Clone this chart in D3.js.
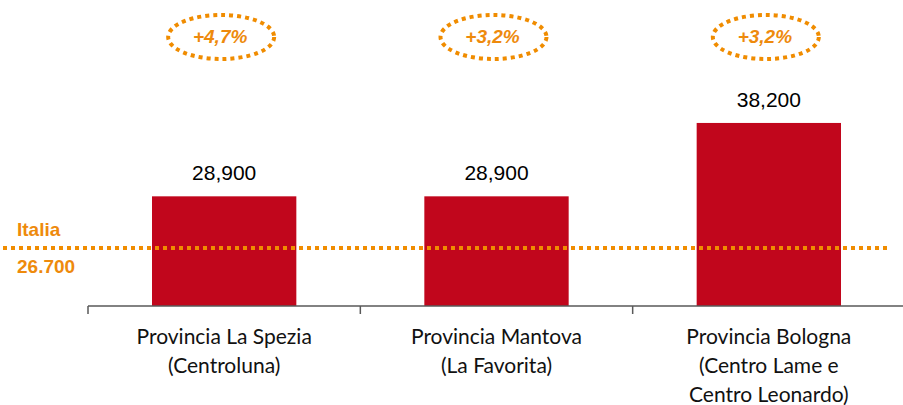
<!DOCTYPE html>
<html>
<head>
  <meta charset="utf-8">
  <script src="https://d3js.org/d3.v7.min.js"></script>
  <style>
    body { margin: 0; background: #ffffff; }
    svg { display: block; }
    .bar { fill: #c1061c; }
    .value { font: 21px "Liberation Sans", Arial, sans-serif; fill: #000; text-anchor: middle; }
    .cat { font: 21px Lato, "Open Sans", sans-serif; fill: #111; text-anchor: middle; }
    .growth { font: italic bold 19px "Liberation Sans", Arial, sans-serif; fill: #ee8a0c; text-anchor: middle; }
    .ref { font: bold 19px "Liberation Sans", Arial, sans-serif; fill: #ee8a0c; }
    .dots { fill: none; stroke: #f08c00; stroke-width: 4; stroke-dasharray: 4 4; }
    .axis { stroke: #595959; stroke-width: 1.5; fill: none; }
  </style>
</head>
<body>
<script>
// data
var categories = ["Provincia La Spezia", "Provincia Mantova", "Provincia Bologna"];
var catLines = [
  ["Provincia La Spezia", "(Centroluna)"],
  ["Provincia Mantova", "(La Favorita)"],
  ["Provincia Bologna", "(Centro Lame e", "Centro Leonardo)"]
];
var values = [28900, 28900, 38200];
var valueLabels = ["28,900", "28,900", "38,200"];
var growth = ["+4,7%", "+3,2%", "+3,2%"];
var refLabel = "Italia";
var refValue = "26.700";

var width = 903, height = 405;
var baseY = 306;

var svg = d3.select("body").append("svg")
  .attr("width", width).attr("height", height);

var x = d3.scaleBand()
  .domain(categories)
  .range([88, 905])
  .padding(0);

var y = d3.scaleLinear()
  .domain([15000, 45000])
  .range([baseY, baseY - 30000 * 0.00789]);

var barW = x.bandwidth() * 0.53;

// bars
svg.selectAll(".bar")
  .data(values)
  .enter().append("rect")
  .attr("class", "bar")
  .attr("x", function(d, i) { return x(categories[i]) + x.bandwidth() / 2 - barW / 2; })
  .attr("y", function(d) { return y(d); })
  .attr("width", barW)
  .attr("height", function(d) { return baseY - y(d); });

// value labels
svg.selectAll(".value")
  .data(values)
  .enter().append("text")
  .attr("class", "value")
  .attr("x", function(d, i) { return x(categories[i]) + x.bandwidth() / 2; })
  .attr("y", function(d) { return y(d) - 16; })
  .text(function(d, i) { return valueLabels[i]; });

// axis line + ticks at the band edges
svg.append("line").attr("class", "axis")
  .attr("x1", x.range()[0]).attr("x2", x.range()[1])
  .attr("y1", baseY).attr("y2", baseY);

var edges = categories.map(function(c) { return x(c); }).concat([x.range()[1]]);
svg.selectAll(".tick")
  .data(edges)
  .enter().append("line")
  .attr("class", "axis")
  .attr("x1", function(d) { return d; }).attr("x2", function(d) { return d; })
  .attr("y1", baseY).attr("y2", baseY + 8);

// category labels
var cat = svg.selectAll(".cat")
  .data(catLines)
  .enter().append("text")
  .attr("class", "cat")
  .attr("x", function(d, i) { return x(categories[i]) + x.bandwidth() / 2; })
  .attr("y", 344);
cat.selectAll("tspan")
  .data(function(d) { return d; })
  .enter().append("tspan")
  .attr("x", function() { return this.parentNode.getAttribute("x"); })
  .attr("dy", function(d, i) { return i === 0 ? 0 : 29; })
  .text(function(d) { return d; });

// Italia reference line (annotation)
var refY = 248;
svg.append("line").attr("class", "dots")
  .attr("x1", 3).attr("x2", 890)
  .attr("y1", refY).attr("y2", refY);
svg.append("text").attr("class", "ref")
  .attr("x", 17).attr("y", 236).text(refLabel);
svg.append("text").attr("class", "ref")
  .attr("x", 17).attr("y", 273).text(refValue);

// growth bubbles
svg.selectAll(".bubble")
  .data(growth)
  .enter().append("ellipse")
  .attr("class", "dots")
  .attr("cx", function(d, i) { return x(categories[i]) + x.bandwidth() / 2 - 3; })
  .attr("cy", 37)
  .attr("rx", 53)
  .attr("ry", 22);

svg.selectAll(".growth")
  .data(growth)
  .enter().append("text")
  .attr("class", "growth")
  .attr("x", function(d, i) { return x(categories[i]) + x.bandwidth() / 2 - 4; })
  .attr("y", 43)
  .text(function(d) { return d; });
</script>
</body>
</html>
